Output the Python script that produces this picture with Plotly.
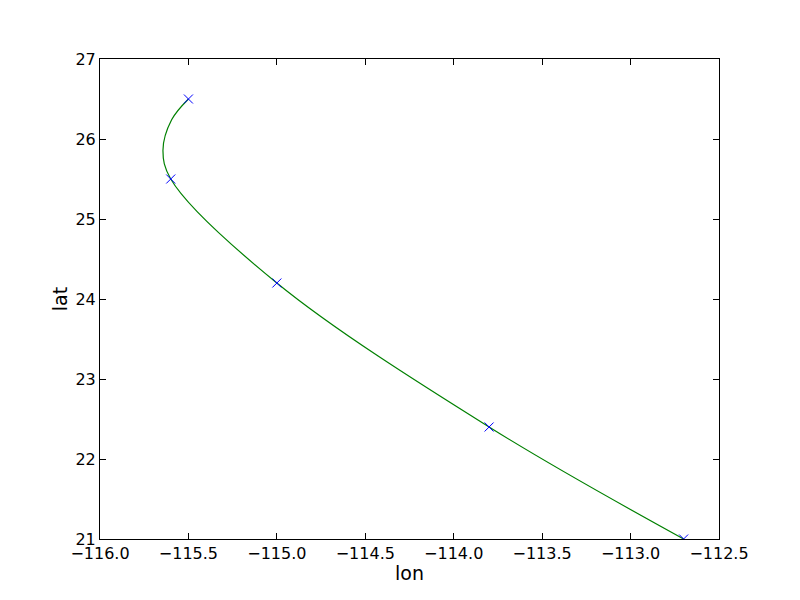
import plotly.graph_objects as go

# observation points (markers)
lon = [-115.5, -115.6, -115.0, -113.8, -112.7]
lat = [26.5, 25.5, 24.2, 22.4, 21.0]

# fitted track
track_lon = [-115.5, -115.595, -115.644, -115.6, -115.0, -113.8, -112.7]
track_lat = [26.5, 26.24, 25.86, 25.5, 24.2, 22.4, 21.0]

x_ticks = [-116.0, -115.5, -115.0, -114.5, -114.0, -113.5, -113.0, -112.5]
x_labels = ["\u2212116.0", "\u2212115.5", "\u2212115.0", "\u2212114.5", "\u2212114.0", "\u2212113.5", "\u2212113.0", "\u2212112.5"]
y_ticks = [21, 22, 23, 24, 25, 26, 27]

fig = go.Figure()
fig.add_trace(go.Scatter(x=track_lon, y=track_lat, mode="lines",
                         line=dict(color="#008000", width=1.2, shape="spline", smoothing=1.0),
                         showlegend=False))
fig.add_trace(go.Scatter(x=lon, y=lat, mode="markers",
                         marker=dict(symbol="x-thin", size=9, color="#0000ff",
                                     line=dict(color="#0000ff", width=1)),
                         cliponaxis=True, showlegend=False))

font = dict(family="DejaVu Sans", size=16, color="black")
fig.update_layout(
    width=800, height=600,
    margin=dict(l=92, r=89, t=51, b=69),
    paper_bgcolor="white", plot_bgcolor="white",
    font=font,
    xaxis=dict(range=[-116, -112.5], tickvals=x_ticks, ticktext=x_labels,
               ticks="inside", ticklen=6, tickcolor="black", mirror="ticks",
               showline=True, linecolor="black", linewidth=1, showgrid=False, zeroline=False,
               title=dict(text="lon", standoff=4)),
    yaxis=dict(range=[21, 27], tickvals=y_ticks,
               ticks="inside", ticklen=6, tickcolor="black", mirror="ticks",
               showline=True, linecolor="black", linewidth=1, showgrid=False, zeroline=False,
               title=dict(text="lat", standoff=2)),
)
fig.write_html("out.html")
